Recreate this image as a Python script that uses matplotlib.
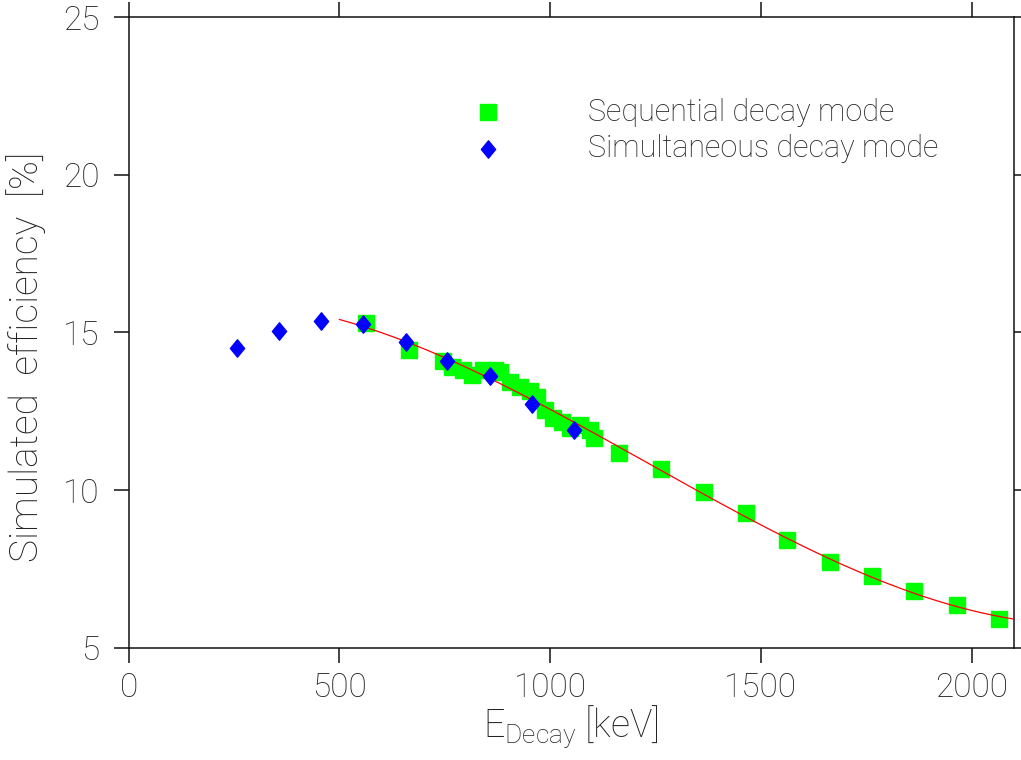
import numpy as np
import matplotlib
matplotlib.use("Agg")
import matplotlib.pyplot as plt
from matplotlib.path import Path

plt.rcParams['font.family'] = ['Roboto', 'DejaVu Sans']
plt.rcParams['font.weight'] = 'light'
plt.rcParams['axes.labelweight'] = 'light'
plt.rcParams['mathtext.fontset'] = 'custom'
plt.rcParams['mathtext.rm'] = 'Roboto:light'
plt.rcParams['mathtext.it'] = 'Roboto:light'

# Sequential decay mode (keV, %)
seq_energy = [564, 664, 746, 767, 793, 814, 840, 870, 881, 905, 928, 952,
              969, 988, 1007, 1028, 1047, 1071, 1095, 1105,
              1164, 1264, 1364, 1464, 1563, 1664, 1763, 1864, 1964, 2064]
seq_eff = [15.29, 14.43, 14.11, 13.92, 13.80, 13.64, 13.80, 13.80, 13.75, 13.42,
           13.26, 13.16, 12.97, 12.53, 12.28, 12.15, 11.96, 12.06, 11.90, 11.65,
           11.18, 10.68, 9.93, 9.28, 8.42, 7.74, 7.27, 6.81, 6.37, 5.92]

# Simultaneous decay mode (keV, %)
sim_energy = [256, 356, 457, 556, 657, 756, 857, 957, 1056]
sim_eff = [14.52, 15.04, 15.36, 15.28, 14.69, 14.11, 13.61, 12.74, 11.92]

labels = ['Sequential decay mode', 'Simultaneous decay mode']

# Cubic fit to the sequential points, drawn from 500 keV to the axis end
fit_range = (500, 2100)
coef = np.polyfit(seq_energy, seq_eff, 3)
fit_x = np.linspace(*fit_range, 300)
fit_y = np.polyval(coef, fit_x)

fig = plt.figure(figsize=(10.21, 7.60), dpi=100)
ax = fig.add_axes([0.126, 0.1474, 0.867, 0.8302])

diamond = Path([(0, 1), (0.82, 0), (0, -1), (-0.82, 0), (0, 1)],
               [Path.MOVETO, Path.LINETO, Path.LINETO, Path.LINETO, Path.CLOSEPOLY])

green = '#00ff00'
blue = '#0000ff'
text_col = '#222222'

ax.plot(seq_energy, seq_eff, ls='none', marker='s', ms=12, mfc=green,
        mec=green, zorder=2)
ax.plot(fit_x, fit_y, color='#ff0000', lw=0.9, zorder=3)
ax.plot(sim_energy, sim_eff, ls='none', marker=diamond, ms=12.5, mfc=blue,
        mec=blue, zorder=4)

# Key drawn in axes coordinates
key_y = [0.849, 0.791]
ax.plot([0.406], [key_y[0]], transform=ax.transAxes, ls='none', marker='s',
        ms=12, mfc=green, mec=green, clip_on=False)
ax.plot([0.406], [key_y[1]], transform=ax.transAxes, ls='none', marker=diamond,
        ms=12.5, mfc=blue, mec=blue, clip_on=False)
for yk, lab in zip(key_y, labels):
    ax.text(0.519, yk, lab, transform=ax.transAxes, ha='left', va='center',
            fontsize=22, color=text_col)

ax.set_xlim(0, 2100)
ax.set_ylim(5, 25)
ax.set_xticks([0, 500, 1000, 1500, 2000])
ax.set_yticks([5, 10, 15, 20, 25])

for s in ax.spines.values():
    s.set_linewidth(1.1)
    s.set_color('#111111')

ax.tick_params(axis='both', which='major', direction='out', length=11, width=1.1,
               color='#111111', labelsize=24, labelcolor=text_col,
               top=True, right=True)
ax.tick_params(axis='y', pad=10)
ax.tick_params(axis='x', pad=6)

ax.set_ylabel('Simulated  efficiency  [%]', fontsize=28, color=text_col)
ax.yaxis.set_label_coords(-0.093, 0.462)
ax.set_xlabel(r'E$_{\mathrm{Decay}}$ [keV]', fontsize=27, color=text_col,
              labelpad=0)

fig.savefig('out.png', dpi=100)
